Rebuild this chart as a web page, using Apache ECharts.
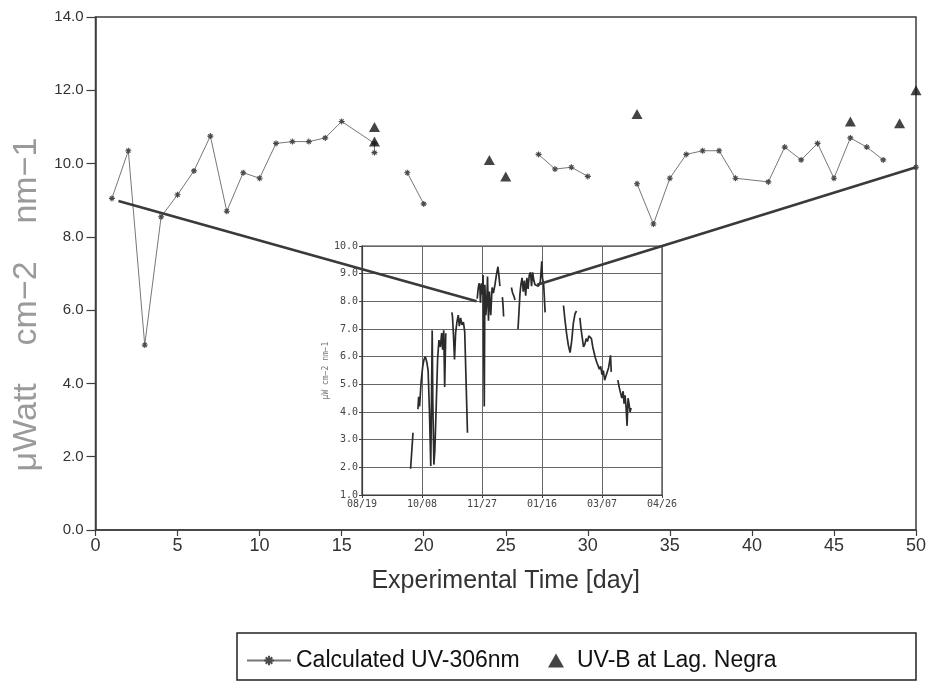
<!DOCTYPE html>
<html>
<head>
<meta charset="utf-8">
<script src="https://cdn.jsdelivr.net/npm/echarts@6/dist/echarts.min.js"></script>
<style>
  html, body { margin: 0; padding: 0; background: #fff; }
  #chart { width: 931px; height: 689px; }
</style>
</head>
<body>
<div id="chart"></div>
<script>
// Calculated UV-306nm irradiance per experimental day (μW cm-2 nm-1); null = no value, breaks the line
const calcDays = [1, 2, 3, 4, 5, 6, 7, 8, 9, 10, 11, 12, 13, 14, 15, 17, 17, 18, 19, 20, 21, 27, 28, 29, 30, 31,
                  33, 34, 35, 36, 37, 38, 39, 41, 42, 43, 44, 45, 46, 47, 48, 49, 50];
const calcUV   = [9.05, 10.35, 5.05, 8.55, 9.15, 9.8, 10.75, 8.7, 9.75, 9.6, 10.55, 10.6, 10.6, 10.7, 11.15, 10.55, 10.3, null, 9.75, 8.9, null, 10.25, 9.85, 9.9, 9.65, null,
                  9.45, 8.35, 9.6, 10.25, 10.35, 10.35, 9.6, 9.5, 10.45, 10.1, 10.55, 9.6, 10.7, 10.45, 10.1, null, 9.9];

// UV-B measured at Laguna Negra
const negraDays = [17, 17, 24, 25, 33, 46, 49, 50];
const negraUV   = [11.0, 10.6, 10.1, 9.65, 11.35, 11.15, 11.1, 12.0];

// Seasonal record (inset): days counted from 08/19; null marks a gap in the record
const seasonDays = [
  40.5, 42.5, 44,
  46.6, 47.2, 48.0, 49.2, 50.6, 51.7, 52.8, 54.0, 55.1, 56.2, 57.3, 57.9, 58.5, 59.0, 59.9, 60.7, 61.9, 63.0, 64.1, 65.3, 66.4, 67.2, 68.1, 68.9, 69.8, 72,
  74.9, 75.4, 76.3, 77.1, 78.0, 79.1, 80.2, 81.1, 82.2, 83.3, 84.5, 85.6, 86.7, 87.9, 91,
  96.0, 96.8, 97.5, 98.2, 98.7, 99.5, 100.3, 100.9, 101.5, 101.9, 102.4, 103.2, 104.0, 104.6, 105.4, 106.2, 107.3, 108.4, 109.5, 110.8, 112.2, 113.3, 114.3, 114.9, 116,
  117.0, 117.6, 118.0, 121,
  124.5, 125.5, 126.5, 127.5, 129,
  130.0, 130.8, 131.6, 132.4, 133.4, 134.4, 135.4, 136.4, 137.4, 138.4, 139.4, 140.4, 141.3, 142.2, 143.2, 144.2, 145.5, 147.0, 148.6, 149.8, 150.4, 151.4, 152.6, 160,
  167.9, 169.2, 170.6, 172.0, 173.4, 174.7, 176.1, 177.5, 178.8, 180,
  181.6, 182.4, 183.5, 184.6, 185.7, 186.8, 187.9, 189.0, 190.1, 191.2, 192.3, 193.4, 194.5, 195.6, 196.7, 197.8, 198.9, 200.0, 201.1, 202.2, 203.3, 204.4, 205.5, 206.6, 207.1, 207.7, 210,
  213.2, 214.3, 215.4, 216.5, 217.6, 218.4, 219.2, 220.1, 220.9, 221.7, 222.5, 223.4, 224.2
];
const seasonUV = [
  1.95, 3.25, null,
  4.1, 4.55, 4.2, 5.05, 5.65, 5.9, 6.0, 5.8, 5.5, 4.05, 2.05, 4.4, 6.95, 4.4, 2.1, 2.6, 4.3, 5.9, 6.6, 6.35, 6.85, 6.25, 6.95, 4.9, 6.85, null,
  7.6, 7.45, 6.7, 5.9, 6.85, 7.25, 7.5, 7.1, 7.4, 7.15, 7.25, 6.9, 6.85, 3.25, null,
  8.1, 8.45, 8.65, 8.55, 7.95, 8.65, 8.25, 8.95, 6.0, 4.2, 8.6, 7.5, 8.0, 8.9, 7.3, 8.35, 7.5, 8.5, 8.3, 8.6, 9.0, 9.25, 8.85, 8.55, null,
  8.15, 7.8, 7.45, null,
  8.5, 8.3, 8.2, 8.05, null,
  7.0, 7.6, 8.25, 8.6, 8.85, 8.35, 8.75, 8.2, 8.85, 8.45, 8.95, 9.05, 8.55, 9.05, 8.75, 8.6, 8.6, 8.55, 8.7, 9.45, 8.85, 8.6, 7.6, null,
  7.85, 7.3, 6.8, 6.4, 6.15, 6.55, 7.2, 7.55, 7.65, null,
  7.4, 7.05, 6.7, 6.35, 6.45, 6.65, 6.55, 6.75, 6.8, 6.65, 6.35, 6.15, 5.95, 5.8, 5.85, 5.55, 5.65, 5.35, 5.5, 5.15, 5.3, 5.35, 5.6, 5.9, 6.05, 5.45, null,
  5.15, 4.9, 4.7, 4.5, 4.75, 4.3, 4.6, 4.15, 3.5, 4.5, 4.3, 4.0, 4.15
];
const seasonTickLabels = ['08/19', '10/08', '11/27', '01/16', '03/07', '04/26'];

// Zoom connectors: a point of the main chart joined to a point of the inset record
const connectorMainPts  = [[1.4, 8.98], [50, 9.9]];
const connectorInsetPts = [[95.5, 8.0], [146, 8.6]];

const pairUp = (xs, ys) => xs.map((x, i) => [x, ys[i] == null ? '-' : ys[i]]);

const sans = '"Liberation Sans", Arial, Helvetica, sans-serif';
const mono = '"DejaVu Sans Mono", "Liberation Mono", monospace';
const ink = '#3d3d3d';

const chart = echarts.init(document.getElementById('chart'), null, { renderer: 'canvas' });

// asterisk marker for the calculated series
const starMark = 'path://M5,0L5,10M0,5L10,5M1.6,1.6L8.4,8.4M1.6,8.4L8.4,1.6';

chart.setOption({
  animation: false,
  backgroundColor: '#fff',
  grid: [
    { left: 95.5, right: 15, top: 17, bottom: 159, show: true, borderColor: ink, borderWidth: 1.5 },
    { left: 362, width: 300, top: 246, height: 249, show: true, borderColor: ink, borderWidth: 1.2 }
  ],
  xAxis: [
    {
      gridIndex: 0, type: 'value', min: 0, max: 50, interval: 5,
      axisLine: { lineStyle: { color: ink, width: 1.5 } },
      axisTick: { length: 6, lineStyle: { color: ink, width: 1.2 } },
      axisLabel: { fontSize: 18, color: '#333', fontFamily: sans, margin: 7 },
      splitLine: { show: false },
      name: 'Experimental Time [day]', nameLocation: 'middle', nameGap: 39,
      nameTextStyle: { fontSize: 25, color: '#333', fontFamily: sans }
    },
    {
      gridIndex: 1, type: 'value', min: 0, max: 250, interval: 50,
      axisLine: { lineStyle: { color: ink, width: 1.2 } },
      axisTick: { length: 3, lineStyle: { color: ink } },
      axisLabel: { fontSize: 10, color: '#444', fontFamily: mono, margin: 4,
                   formatter: v => seasonTickLabels[Math.round(v / 50)] },
      splitLine: { show: true, lineStyle: { color: '#666', width: 1 } }
    }
  ],
  yAxis: [
    {
      gridIndex: 0, type: 'value', min: 0, max: 14, interval: 2,
      axisLine: { lineStyle: { color: ink, width: 1.5 } },
      axisTick: { length: 9, lineStyle: { color: ink, width: 1.2 } },
      axisLabel: { fontSize: 15, color: '#333', fontFamily: sans, margin: 12, formatter: v => v.toFixed(1) },
      splitLine: { show: false },
      name: 'μWatt    cm−2    nm−1', nameLocation: 'middle', nameRotate: 90, nameGap: 52,
      nameTextStyle: { fontSize: 34, color: '#9a9a9a', fontFamily: sans, padding: [0, 62, 0, 0] }
    },
    {
      gridIndex: 1, type: 'value', min: 1, max: 10, interval: 1,
      axisLine: { lineStyle: { color: ink, width: 1.2 } },
      axisTick: { length: 3, lineStyle: { color: ink } },
      axisLabel: { fontSize: 10, color: '#444', fontFamily: mono, margin: 4, formatter: v => v.toFixed(1) },
      splitLine: { show: true, lineStyle: { color: '#666', width: 1 } },
      name: 'μW cm−2 nm−1', nameLocation: 'middle', nameRotate: 90, nameGap: 22,
      nameTextStyle: { fontSize: 8, color: '#777', fontFamily: mono }
    }
  ],
  legend: [
    {
      data: ['Calculated UV-306nm'], left: 241, top: 644, itemWidth: 44, itemHeight: 12,
      selectedMode: false, textStyle: { fontSize: 23, color: '#111', fontFamily: sans }
    },
    {
      data: ['UV-B at Lag. Negra'], left: 543, top: 644, itemWidth: 16, itemHeight: 14, itemGap: 10,
      selectedMode: false, textStyle: { fontSize: 23, color: '#111', fontFamily: sans, padding: [0, 0, 0, 8] }
    }
  ],
  series: [
    {
      name: 'Calculated UV-306nm', type: 'line', xAxisIndex: 0, yAxisIndex: 0,
      data: pairUp(calcDays, calcUV), connectNulls: false,
      symbol: starMark, symbolSize: 6, showAllSymbol: true,
      lineStyle: { color: '#777', width: 1 },
      itemStyle: { color: 'rgba(0,0,0,0)', borderColor: '#4a4a4a', borderWidth: 1.1 },
      z: 3
    },
    {
      name: 'UV-B at Lag. Negra', type: 'scatter', xAxisIndex: 0, yAxisIndex: 0,
      data: pairUp(negraDays, negraUV), symbol: 'triangle', symbolSize: [11, 10],
      itemStyle: { color: '#151515' }, z: 4
    },
    {
      name: 'season', type: 'line', xAxisIndex: 1, yAxisIndex: 1,
      data: pairUp(seasonDays, seasonUV), connectNulls: false,
      showSymbol: false, symbol: 'none', silent: true,
      lineStyle: { color: '#2b2b2b', width: 1.7 }, z: 5
    }
  ]
});

// connector lines and legend frame, positioned through the axes
const toMain = pt => chart.convertToPixel({ xAxisIndex: 0, yAxisIndex: 0 }, pt);
const toInset = pt => chart.convertToPixel({ xAxisIndex: 1, yAxisIndex: 1 }, pt);

const graphics = connectorMainPts.map((pt, i) => {
  const a = toMain(pt), b = toInset(connectorInsetPts[i]);
  return {
    type: 'line', z: 20,
    shape: { x1: a[0], y1: a[1], x2: b[0], y2: b[1] },
    style: { stroke: '#3a3a3a', lineWidth: 2.6 }
  };
});

graphics.push({
  type: 'rect', z: 1,
  shape: { x: 237, y: 633, width: 679, height: 47 },
  style: { fill: 'none', stroke: '#222', lineWidth: 1.5 }
});

chart.setOption({ graphic: graphics });
</script>
</body>
</html>
